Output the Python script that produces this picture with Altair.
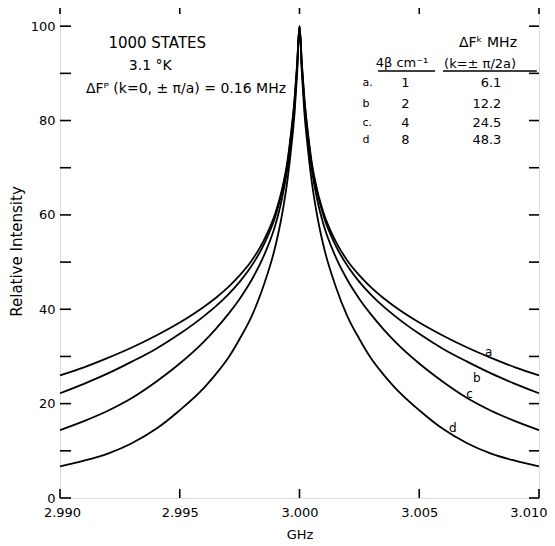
import altair as alt
import pandas as pd

# Offsets from line centre (MHz) and relative intensities
offsets_mhz = [0, 0.1, 0.2, 0.35, 0.5, 0.75, 1.0, 1.5, 2, 2.5, 3, 3.5, 4, 5, 6, 7, 8, 9, 10]
curve_a = [100, 92, 85, 77.5, 71.5, 65, 60.5, 54.5, 50.3, 47.2, 44.6, 42.4, 40.5, 37.2, 34.4, 31.9, 29.7, 27.7, 26.0]
curve_b = [100, 91.5, 84.5, 77, 71, 64.5, 59.8, 53.6, 49.2, 45.8, 43.0, 40.6, 38.5, 34.8, 31.6, 28.9, 26.4, 24.2, 22.2]
curve_c = [100, 91, 83.5, 76, 70, 63, 58, 51.2, 46.2, 42.2, 38.8, 35.8, 33.1, 28.5, 24.6, 21.2, 18.5, 16.3, 14.4]
curve_d = [100, 90, 82, 74, 67.5, 59.5, 53.5, 45, 38.5, 33.7, 29.5, 26.2, 23.3, 18.6, 14.6, 11.6, 9.4, 7.9, 6.7]
center_ghz = 3.000

curves = {"a": curve_a, "b": curve_b, "c": curve_c, "d": curve_d}

x_ticks = [2.990, 2.995, 3.000, 3.005, 3.010]
y_labels = [0, 20, 40, 60, 80, 100]
y_ticks = [0, 10, 20, 30, 40, 50, 60, 70, 80, 90, 100]

curve_label_text = ["a", "b", "c", "d"]
curve_label_x = [3.0079, 3.0074, 3.0071, 3.0064]
curve_label_y = [30.9, 25.4, 22.0, 14.9]

table_rows = ["a.", "b", "c.", "d"]
table_beta = ["1", "2", "4", "8"]
table_df = ["6.1", "12.2", "24.5", "48.3"]
table_row_y = [88.0, 83.5, 79.5, 75.8]

rows = []
for name, vals in curves.items():
    for off, v in zip(offsets_mhz, vals):
        rows.append({"curve": name, "ghz": center_ghz - off / 1000.0, "val": v})
        if off != 0:
            rows.append({"curve": name, "ghz": center_ghz + off / 1000.0, "val": v})
df = pd.DataFrame(rows)

W, H = 479, 494
FONT = "DejaVu Sans"
xs = alt.Scale(domain=[2.990, 3.010], nice=False, zero=False)
ys = alt.Scale(domain=[0, 104.7], nice=False, zero=False)

lines = alt.Chart(df).mark_line(color="black", strokeWidth=1.8, interpolate="monotone").encode(
    x=alt.X("ghz:Q", scale=xs, title="GHz",
            axis=alt.Axis(values=x_ticks, format=".3f", ticks=False, domain=False, grid=False,
                          labelFlush=False,
                          labelAlign={"expr": "datum.value > 3.0099 ? 'right' : 'center'"},
                          labelOffset={"expr": "datum.value > 3.0099 ? 8 : (datum.value < 2.9901 ? 2 : 0)"},
                          labelFont=FONT, labelFontSize=13, labelColor="black", labelPadding=8,
                          titleFont=FONT, titleFontSize=13, titleFontWeight="normal",
                          titleColor="black", titlePadding=9)),
    y=alt.Y("val:Q", scale=ys, title="Relative Intensity",
            axis=alt.Axis(values=y_labels, ticks=False, domain=False, grid=False,
                          labelFlush=False,
                          labelFont=FONT, labelFontSize=13, labelColor="black", labelPadding=5,
                          titleFont=FONT, titleFontSize=15, titleFontWeight="normal",
                          titleColor="black", titlePadding=6)),
    detail="curve:N",
)

ydf = pd.DataFrame({"v": y_ticks})
xdf = pd.DataFrame({"g": x_ticks})
yt_left = alt.Chart(ydf).mark_rule(color="black", strokeWidth=1.6).encode(
    y=alt.Y("v:Q", scale=ys), x=alt.value(0), x2=alt.value(11))
yt_right = alt.Chart(ydf).mark_rule(color="black", strokeWidth=1.6).encode(
    y=alt.Y("v:Q", scale=ys), x=alt.value(W - 10), x2=alt.value(W))
xt_bot = alt.Chart(xdf).mark_rule(color="black", strokeWidth=1.6).encode(
    x=alt.X("g:Q", scale=xs), y=alt.value(H), y2=alt.value(H - 9))
xt_top = alt.Chart(xdf).mark_rule(color="black", strokeWidth=1.6).encode(
    x=alt.X("g:Q", scale=xs), y=alt.value(0), y2=alt.value(10))

lab_df = pd.DataFrame({"t": curve_label_text, "g": curve_label_x, "v": curve_label_y})
curve_labels = alt.Chart(lab_df).mark_text(font=FONT, fontSize=12, color="black").encode(
    x=alt.X("g:Q", scale=xs), y=alt.Y("v:Q", scale=ys), text="t:N")

ann_df = pd.DataFrame({
    "t": ["1000 STATES", "3.1 °K", "ΔFᴾ (k=0, ± π/a) = 0.16 MHz"],
    "g": [2.99406, 2.99377, 2.99526],
    "v": [96.4, 91.5, 86.6],
    "s": [15, 14, 14],
})
ann = alt.Chart(ann_df).mark_text(font=FONT, color="black").encode(
    x=alt.X("g:Q", scale=xs), y=alt.Y("v:Q", scale=ys), text="t:N",
    size=alt.Size("s:Q", scale=None, legend=None))

hdr_df = pd.DataFrame({
    "t": ["ΔFᵏ  MHz", "4β cm⁻¹", "(k=± π/2a)"],
    "g": [3.00787, 3.00428, 3.00754],
    "v": [96.5, 92.2, 92.0],
    "s": [14, 13, 13],
})
hdr = alt.Chart(hdr_df).mark_text(font=FONT, color="black").encode(
    x=alt.X("g:Q", scale=xs), y=alt.Y("v:Q", scale=ys), text="t:N",
    size=alt.Size("s:Q", scale=None, legend=None))

ul_df = pd.DataFrame({"g1": [3.00328, 3.00599], "g2": [3.00566, 3.00991], "v": [90.5, 90.5]})
underline = alt.Chart(ul_df).mark_rule(color="black", strokeWidth=1.3).encode(
    x=alt.X("g1:Q", scale=xs), x2="g2:Q", y=alt.Y("v:Q", scale=ys))

tab_df = pd.DataFrame({"r": table_rows, "b": table_beta, "f": table_df, "v": table_row_y})
tab_r = alt.Chart(tab_df).mark_text(font=FONT, fontSize=11, color="black", align="left").encode(
    x=alt.datum(3.00263), y=alt.Y("v:Q", scale=ys), text="r:N")
tab_b = alt.Chart(tab_df).mark_text(font=FONT, fontSize=13, color="black").encode(
    x=alt.datum(3.00442), y=alt.Y("v:Q", scale=ys), text="b:N")
tab_f = alt.Chart(tab_df).mark_text(font=FONT, fontSize=13, color="black", align="right").encode(
    x=alt.datum(3.00843), y=alt.Y("v:Q", scale=ys), text="f:N")

chart = alt.layer(
    lines, yt_left, yt_right, xt_bot, xt_top, curve_labels, ann, hdr, underline, tab_r, tab_b, tab_f
).properties(
    width=W, height=H,
    autosize=alt.AutoSizeParams(type="none"),
    padding={"left": 52, "top": -4, "right": 8, "bottom": 44},
).configure_view(stroke="black", strokeWidth=2).configure(background="white")

chart.save("out.html", embed_options={"renderer": "svg", "actions": False})
